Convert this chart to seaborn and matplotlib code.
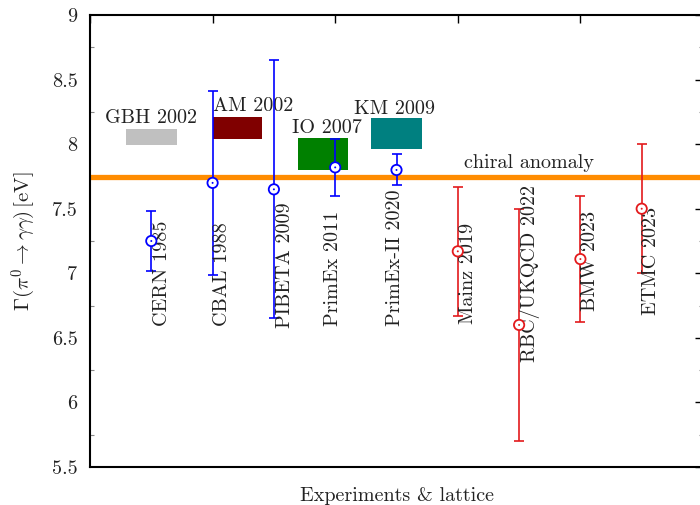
import numpy as np
import pandas as pd
import seaborn as sns
import matplotlib.pyplot as plt
from matplotlib.patches import Rectangle
from matplotlib.ticker import MultipleLocator

# experiments and lattice results
names = ['CERN 1985', 'CBAL 1988', 'PIBETA 2009', 'PrimEx 2011', 'PrimEx-II 2020',
         'Mainz 2019', 'RBC/UKQCD 2022', 'BMW 2023', 'ETMC 2023']
xpos = [1, 2, 3, 4, 5, 6, 7, 8, 9]
width = [7.25, 7.70, 7.65, 7.82, 7.80, 7.17, 6.60, 7.11, 7.50]
err = [0.23, 0.71, 1.00, 0.22, 0.12, 0.50, 0.90, 0.49, 0.50]
kind = ['exp'] * 5 + ['lat'] * 4
label_x = [1.17, 2.15, 3.18, 3.97, 4.98, 6.16, 7.18, 8.16, 9.16]
label_y = [6.59, 6.59, 6.58, 6.59, 6.59, 6.61, 6.31, 6.71, 6.68]

# theory boxes
th_names = ['GBH 2002', 'AM 2002', 'IO 2007', 'KM 2009']
th_x0 = [0.59, 2.00, 3.39, 4.58]
th_x1 = [1.42, 2.81, 4.21, 5.41]
th_lo = [7.99, 8.04, 7.80, 7.965]
th_hi = [8.12, 8.21, 8.05, 8.20]
th_col = ['#c0c0c0', '#800000', '#008000', '#008080']
th_lx = [1.0, 2.0, 3.87, 4.97]
th_ly = [8.16, 8.26, 8.085, 8.235]
th_ha = ['center', 'left', 'center', 'center']

anomaly = 7.745

FS = 14.5

sns.set_theme(style='white')
plt.rcParams['font.family'] = ['cmr10', 'DejaVu Serif']
plt.rcParams['mathtext.fontset'] = 'cm'
plt.rcParams['axes.formatter.use_mathtext'] = True

fig = plt.figure(figsize=(7, 5.05), dpi=100)
ax = fig.add_axes([90 / 700, 38 / 505, 613 / 700, 452 / 505])

colors = {'exp': '#0000ff', 'lat': '#e31a1c'}
df = pd.DataFrame({'x': xpos, 'y': width, 'err': err, 'kind': kind})

ax.axhline(anomaly, color='#ff8c00', lw=3.8, zorder=1)
ax.text(7.16, 7.815, 'chiral anomaly', ha='center', va='baseline', fontsize=FS, color='#222222')

for i in range(len(th_names)):
    ax.add_patch(Rectangle((th_x0[i], th_lo[i]), th_x1[i] - th_x0[i], th_hi[i] - th_lo[i],
                           facecolor=th_col[i], edgecolor='none', zorder=2))
    ax.text(th_lx[i], th_ly[i], th_names[i], ha=th_ha[i], va='baseline', fontsize=FS, color='#222222')

for k, c in colors.items():
    d = df[df['kind'] == k]
    ax.errorbar(d['x'], d['y'], yerr=d['err'], fmt='none', ecolor=c, elinewidth=1.2,
                capsize=3.5, capthick=1.2, zorder=3)
sns.scatterplot(data=df, x='x', y='y', hue='kind', palette=colors, marker='o', s=55,
                facecolors='white', linewidth=1.3, legend=False, ax=ax, zorder=4)
# recolor edges, make faces white
sc = ax.collections[-1]
sc.set_edgecolor([colors[k] for k in kind])
sc.set_facecolor('white')
ax.scatter(xpos, width, s=2, c=[colors[k] for k in kind], zorder=5, linewidths=0)

for i in range(len(names)):
    ax.text(label_x[i], label_y[i], names[i], rotation=90, ha='center', va='bottom',
            fontsize=FS, color='#222222')

ax.set_xlim(0, 10)
ax.set_ylim(5.5, 9)
ax.xaxis.set_major_locator(MultipleLocator(2))
ax.yaxis.set_major_locator(MultipleLocator(0.5))
ax.yaxis.set_minor_locator(MultipleLocator(0.25))
ax.tick_params(axis='both', which='major', direction='in', length=6, width=1,
               top=True, right=True, color='black', labelsize=FS, labelcolor='#222222')
ax.tick_params(axis='y', which='minor', direction='in', length=3, width=0.8,
               left=True, right=True, color='#888888')
ax.tick_params(axis='y', which='major', pad=9)
ax.set_xticklabels([])
ax.yaxis.set_major_formatter(plt.FuncFormatter(lambda v, p: f'{v:g}'))
for s in ax.spines.values():
    s.set_color('black')
    s.set_linewidth(1.5)

ax.set_xlabel('Experiments & lattice', fontsize=FS, color='#222222', labelpad=11)
ax.set_ylabel(r'$\Gamma(\pi^0\to\gamma\gamma)\,[\mathrm{eV}]$', fontsize=15, color='#222222', labelpad=10)

fig.savefig('out.png', dpi=100)
